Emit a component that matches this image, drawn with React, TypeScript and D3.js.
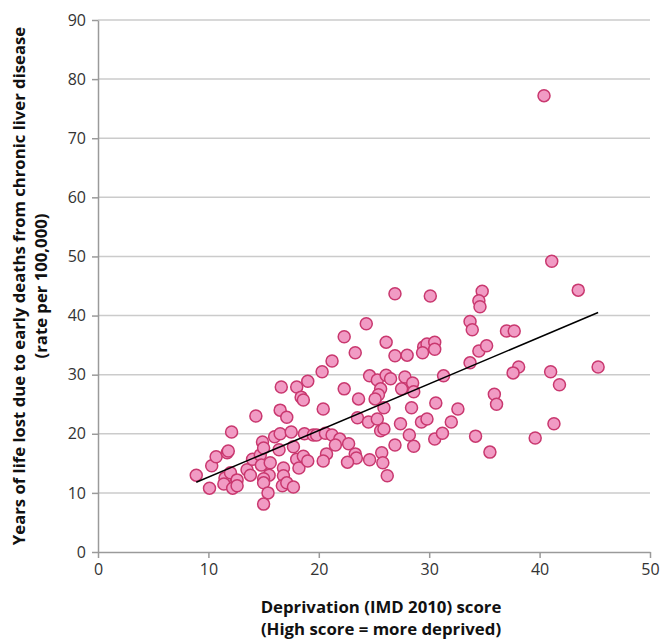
import { useEffect, useRef } from "react";
import * as d3 from "d3";

// Deprivation score (x) vs years of life lost (y)
const deprivation = [
  8.9, 10.1, 10.3, 10.7, 11.7, 11.8, 12.1, 14.3, 11.5, 12.0, 11.4, 12.2, 12.6, 12.6,
  13.5, 13.8, 14.0, 14.7, 14.9, 15.0, 14.8, 15.6, 15.5, 15.0, 15.0, 15.4, 15.0,
  16.0, 16.5, 16.5, 16.6, 17.1, 16.4, 16.8, 16.8, 16.7, 17.1, 17.7, 17.5, 17.7,
  18.0, 18.2, 18.6, 19.0, 18.0, 18.4, 18.6, 19.0, 18.7, 19.5, 19.8,
  26.9, 30.1, 24.3, 22.3, 26.1, 23.3, 26.9, 28.0, 29.5, 29.8, 30.5, 30.5, 29.4,
  21.2, 20.3, 24.6, 25.3, 26.1, 26.5, 27.8, 28.5, 27.5, 28.6, 22.3, 25.6, 25.4,
  25.1, 23.6, 25.9, 28.4, 30.6, 20.4, 23.5, 24.5, 25.3, 25.6, 25.9, 27.4, 29.3,
  29.8, 28.2, 28.6, 26.9, 20.6, 21.2, 21.9, 21.5, 22.7, 20.7, 20.4, 23.3, 23.4,
  24.6, 25.7, 25.8, 22.6, 26.2, 30.5,
  40.4, 41.1, 34.8, 43.5, 34.5, 34.6, 33.7, 33.9, 37.0, 37.7, 34.5, 35.2, 33.7,
  31.3, 38.1, 37.6, 41.0, 45.3, 41.8, 35.9, 36.1, 32.6, 32.0, 31.2, 34.2, 39.6,
  41.3, 35.5,
];
const lifeLost = [
  13.0, 10.8, 14.6, 16.1, 16.8, 17.1, 20.3, 23.0, 12.5, 13.4, 11.5, 10.8, 12.2, 11.2,
  13.9, 13.0, 15.7, 16.4, 18.6, 17.6, 14.7, 15.1, 13.0, 12.4, 11.7, 10.0, 8.1,
  19.5, 20.0, 24.0, 27.9, 22.8, 17.3, 14.2, 12.9, 11.2, 11.7, 11.0, 20.3, 17.8,
  15.7, 14.2, 16.2, 15.4, 27.9, 26.2, 25.7, 28.9, 20.0, 19.8, 19.8,
  43.7, 43.3, 38.6, 36.4, 35.5, 33.7, 33.2, 33.3, 34.7, 35.2, 35.5, 34.3, 33.7,
  32.3, 30.5, 29.8, 29.1, 29.9, 29.3, 29.6, 28.6, 27.6, 27.1, 27.6, 27.6, 26.6,
  25.9, 25.9, 24.4, 24.4, 25.2, 24.2, 22.7, 22.0, 22.5, 20.5, 20.8, 21.7, 22.0,
  22.5, 19.8, 17.9, 18.1, 20.1, 19.8, 19.1, 18.1, 18.3, 16.6, 15.4, 16.6, 15.9,
  15.6, 16.8, 15.1, 15.2, 12.9, 19.1,
  77.2, 49.2, 44.1, 44.3, 42.5, 41.5, 39.0, 37.6, 37.4, 37.4, 34.0, 34.9, 32.0,
  29.8, 31.3, 30.3, 30.5, 31.3, 28.3, 26.7, 25.0, 24.2, 22.0, 20.1, 19.6, 19.3,
  21.7, 16.9,
];

const xTicks = [0, 10, 20, 30, 40, 50];
const yTicks = [0, 10, 20, 30, 40, 50, 60, 70, 80, 90];

const W = 662;
const H = 639;
const margin = { top: 20, right: 12, bottom: 87, left: 98 };

const App = () => {
  const ref = useRef<SVGSVGElement | null>(null);

  useEffect(() => {
    if (!ref.current) return;
    const svg = d3.select(ref.current);
    svg.selectAll("*").remove();

    const x = d3.scaleLinear().domain([0, 50]).range([margin.left, W - margin.right]);
    const y = d3.scaleLinear().domain([0, 90]).range([H - margin.bottom, margin.top]);

    const font = "'Open Sans', 'DejaVu Sans', sans-serif";

    // gridlines
    svg
      .append("g")
      .selectAll("line")
      .data(yTicks.filter((d) => d > 0))
      .enter()
      .append("line")
      .attr("x1", x(0))
      .attr("x2", x(50))
      .attr("y1", (d) => y(d))
      .attr("y2", (d) => y(d))
      .attr("stroke", "#cbcbcb")
      .attr("stroke-width", 1.5);

    const xAxis = svg
      .append("g")
      .attr("transform", `translate(0,${y(0)})`)
      .call(d3.axisBottom(x).tickValues(xTicks).tickSize(6).tickPadding(6).tickSizeOuter(0));
    xAxis.select(".domain").attr("stroke", "#9a9a9a").attr("stroke-width", 1.5);
    xAxis.selectAll(".tick line").attr("stroke", "#9a9a9a").attr("stroke-width", 1.5);
    xAxis
      .selectAll("text")
      .attr("font-family", font)
      .attr("font-size", 16)
      .attr("fill", "#333");

    const yAxis = svg
      .append("g")
      .attr("transform", `translate(${x(0)},0)`)
      .call(d3.axisLeft(y).tickValues(yTicks).tickSize(6).tickPadding(6).tickSizeOuter(0));
    yAxis.select(".domain").attr("stroke", "#9a9a9a").attr("stroke-width", 1.5);
    yAxis.selectAll(".tick line").attr("stroke", "#9a9a9a").attr("stroke-width", 1.5);
    yAxis
      .selectAll("text")
      .attr("font-family", font)
      .attr("font-size", 16)
      .attr("fill", "#333");

    const pts = deprivation.map((d, i) => [d, lifeLost[i]] as [number, number]);

    svg
      .append("g")
      .selectAll("circle")
      .data(pts)
      .enter()
      .append("circle")
      .attr("cx", (d) => x(d[0]))
      .attr("cy", (d) => y(d[1]))
      .attr("r", 6)
      .attr("fill", "#f19bc4")
      .attr("stroke", "#c9386f")
      .attr("stroke-width", 1.5);

    // least squares trend line over the range of the data
    const mx = d3.mean(deprivation) || 0;
    const my = d3.mean(lifeLost) || 0;
    const sxy = d3.sum(pts, (p) => (p[0] - mx) * (p[1] - my));
    const sxx = d3.sum(pts, (p) => (p[0] - mx) ** 2);
    const slope = sxy / sxx;
    const icpt = my - slope * mx;
    const [x0, x1] = d3.extent(deprivation) as [number, number];
    const line = d3
      .line<number>()
      .x((d) => x(d))
      .y((d) => y(icpt + slope * d));
    svg
      .append("path")
      .datum([x0, x1])
      .attr("fill", "none")
      .attr("stroke", "#000")
      .attr("stroke-width", 1.5)
      .attr("d", line);

    // axis titles
    const yt = svg
      .append("text")
      .attr("transform", `translate(29,${(y(0) + y(90)) / 2}) rotate(-90)`)
      .attr("text-anchor", "middle")
      .attr("font-family", font)
      .attr("font-weight", "bold")
      .attr("font-size", 16.7)
      .attr("fill", "#111");
    yt.append("tspan").attr("x", 0).attr("dy", -4).text("Years of life lost due to early deaths from chronic liver disease");
    yt.append("tspan").attr("x", 0).attr("dy", 22).text("(rate per 100,000)");

    const xt = svg
      .append("text")
      .attr("transform", `translate(381,613)`)
      .attr("text-anchor", "middle")
      .attr("font-family", font)
      .attr("font-weight", "bold")
      .attr("font-size", 16.8)
      .attr("fill", "#111");
    xt.append("tspan").attr("x", 0).attr("dy", 0).text("Deprivation (IMD 2010) score");
    xt.append("tspan").attr("x", 0).attr("dy", 22).text("(High score = more deprived)");
  }, []);

  return (
    <svg
      ref={ref}
      width={W}
      height={H}
      style={{ position: "absolute", left: 0, top: 0, background: "#fff" }}
    />
  );
};

export default App;
